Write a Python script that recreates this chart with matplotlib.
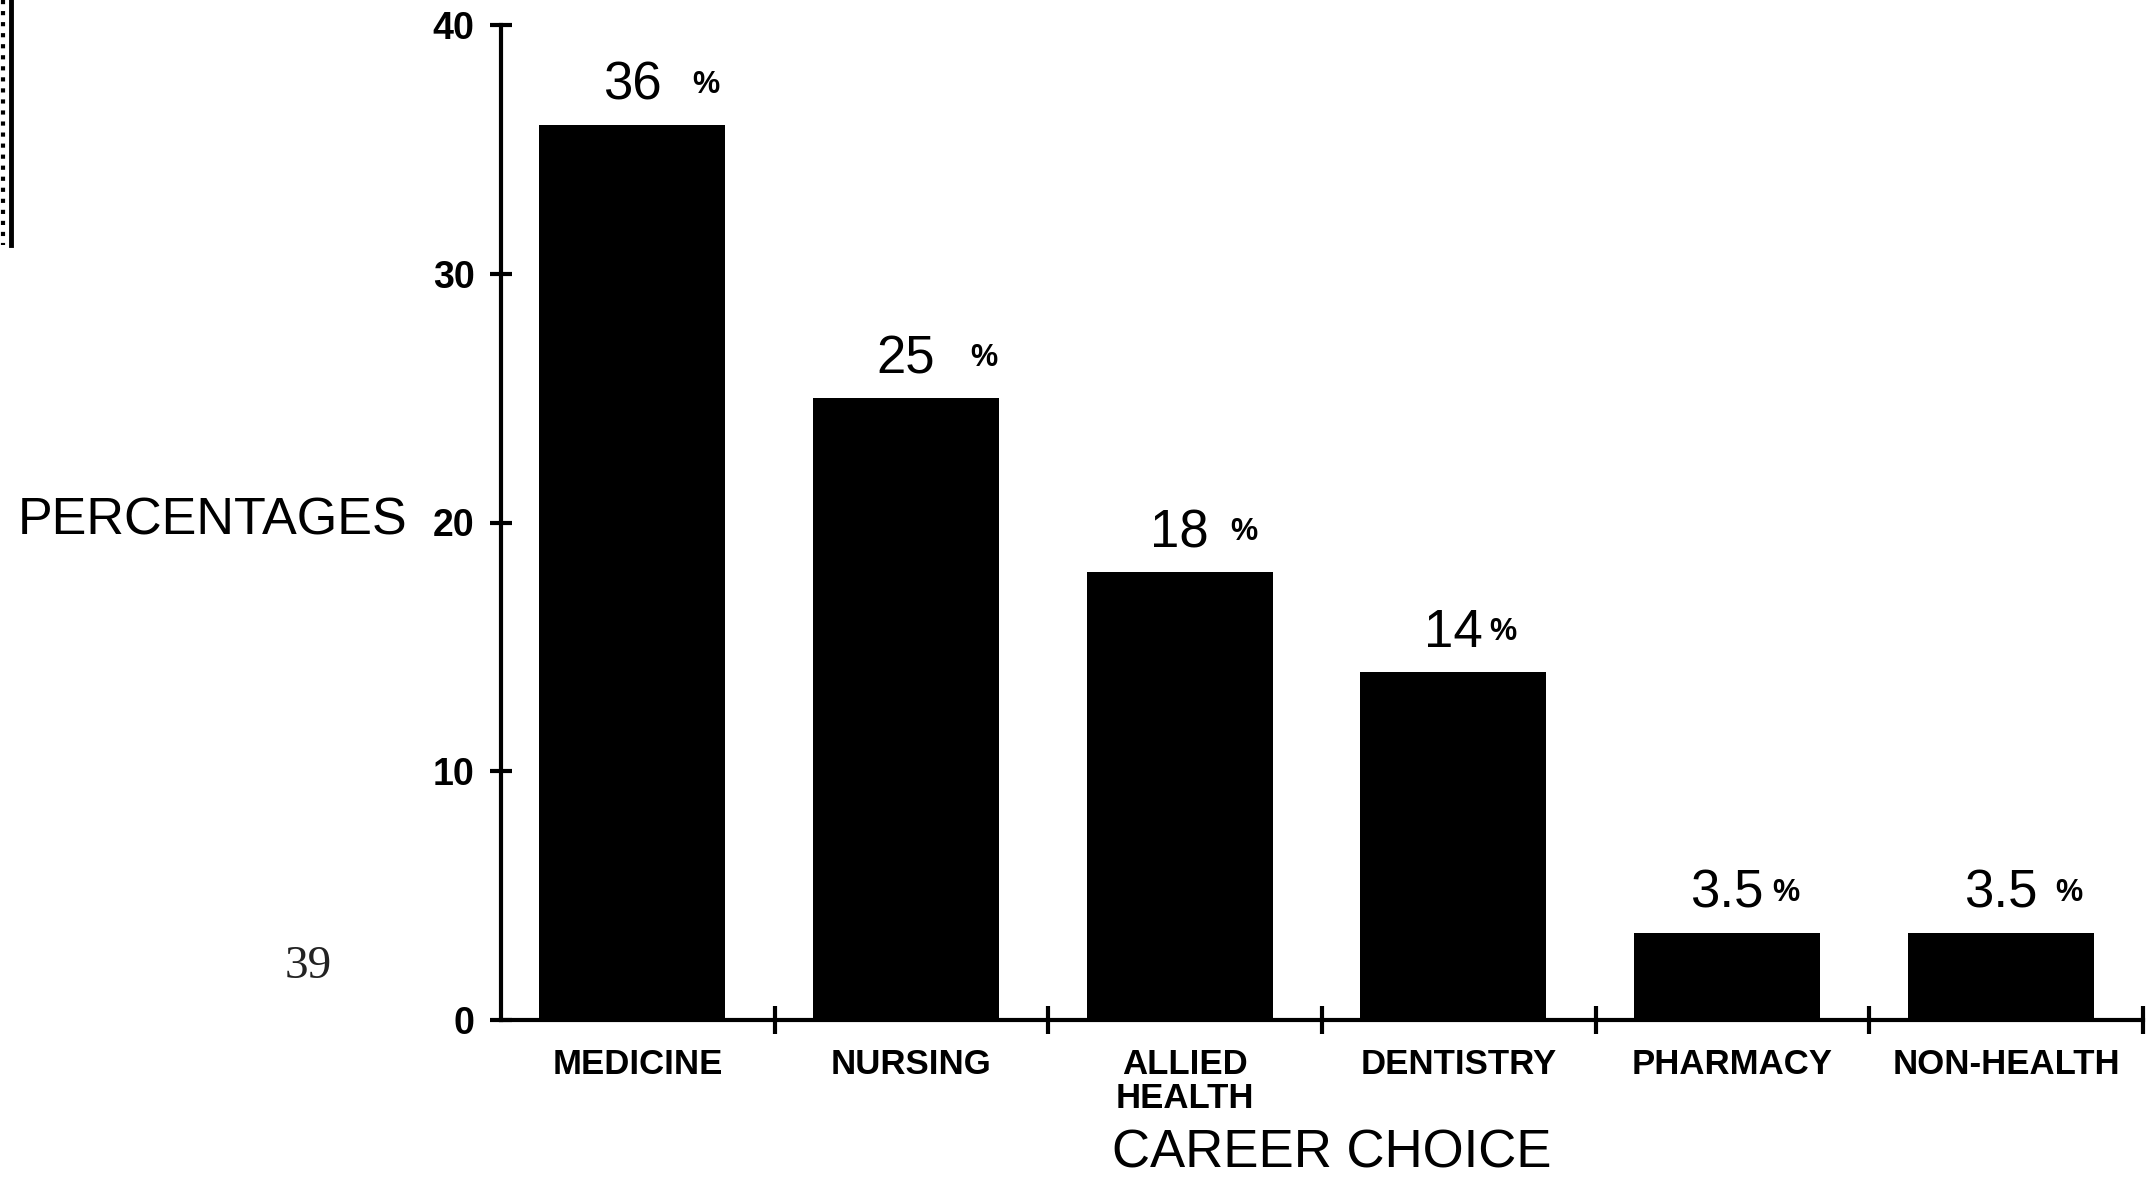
import matplotlib
matplotlib.use("Agg")
import matplotlib.pyplot as plt
from matplotlib.lines import Line2D
import numpy as np

# ---- data ----
categories = ["MEDICINE", "NURSING", "ALLIED\nHEALTH", "DENTISTRY", "PHARMACY", "NON-HEALTH"]
percentages = [36, 25, 18, 14, 3.5, 3.5]
value_labels = ["36", "25", "18", "14", "3.5", "3.5"]
y_ticks = [0, 10, 20, 30, 40]

# gap (points) between each value and its small "%" sign, as set in the original
pct_gaps = [22, 25, 15, 5, 6, 13]

plt.rcParams['font.family'] = ['Liberation Sans', 'DejaVu Sans']

W, H = 2151, 1181
DPI = 100
fig = plt.figure(figsize=(W / DPI, H / DPI), dpi=DPI)
ax = fig.add_axes([501 / W, 1 - 1020 / H, (2143 - 501) / W, (1020 - 25) / H])

x = np.arange(len(categories))
ax.bar(x - 0.02, percentages, width=0.68, color='black')

ax.set_xlim(-0.5, len(categories) - 0.5)
ax.set_ylim(0, 40)
for s in ['top', 'right']:
    ax.spines[s].set_visible(False)
for s in ['left', 'bottom']:
    ax.spines[s].set_linewidth(3)

ax.set_yticks(y_ticks)
ax.tick_params(axis='y', direction='inout', length=16, width=3, labelsize=27, pad=11)
for lbl in ax.get_yticklabels():
    lbl.set_fontweight('bold')

ax.set_xticks(x)
ax.set_xticklabels(categories, fontsize=25, fontweight='bold', linespacing=1.05)
ax.tick_params(axis='x', which='major', length=0, pad=20)
ax.set_xticks(np.arange(0.5, len(categories)), minor=True)
ax.tick_params(axis='x', which='minor', direction='inout', length=20, width=3)

renderer = fig.canvas.get_renderer()
px_to_pt = 72.0 / DPI
for xi, v, lab, gap in zip(x, percentages, value_labels, pct_gaps):
    t = ax.annotate(lab, xy=(xi - 0.02, v), xytext=(0, 18), textcoords='offset points',
                    ha='center', va='baseline', fontsize=38)
    w_pt = t.get_window_extent(renderer).width * px_to_pt
    ax.annotate('%', xy=(xi - 0.02, v), xytext=(w_pt / 2 + gap, 23), textcoords='offset points',
                ha='left', va='baseline', fontsize=22, fontweight='bold')

fig.text(1332 / W, 1 - 1154 / H, "CAREER CHOICE", ha='center', va='center', fontsize=38)
fig.text(213 / W, 1 - 521 / H, "PERCENTAGES", ha='center', va='center', fontsize=37.5)
fig.text(308 / W, 1 - 967 / H, "39", ha='center', va='center', fontsize=34,
         family='Liberation Serif', color='#222222')

# scan edge marks at the top-left margin
fig.add_artist(Line2D([11 / W, 11 / W], [1, 1 - 245 / H], color='black', lw=3.5))
fig.add_artist(Line2D([3 / W, 3 / W], [1, 1 - 245 / H], color='black', lw=3, linestyle=':'))

fig.savefig("out.png", dpi=DPI, facecolor='white')
